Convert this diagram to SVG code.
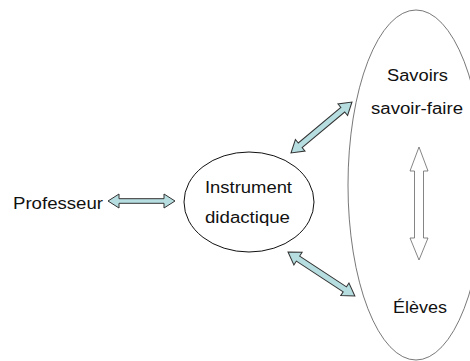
<svg xmlns="http://www.w3.org/2000/svg" width="470" height="361" viewBox="0 0 470 361">
<style>
.lbl{font-family:"Liberation Sans",Arial,Helvetica,sans-serif;font-size:16px;fill:#111;text-anchor:middle}
.dbl{fill:#b6dde0;stroke:#333;stroke-width:1;stroke-linejoin:miter}
.hollow{fill:#fff;stroke:#666;stroke-width:0.8}
</style>
<rect width="470" height="361" fill="#fff"/>
<g id="ensemble">
<ellipse cx="416" cy="185" rx="68" ry="175" fill="none" stroke="#555" stroke-width="0.8"/>
</g>
<g id="professeur">
<text class="lbl" x="58" y="209" textLength="90" lengthAdjust="spacingAndGlyphs">Professeur</text>
</g>
<g id="instrument">
<ellipse cx="249" cy="202" rx="65" ry="50" fill="#fff" stroke="#111" stroke-width="1"/>
<text class="lbl" x="248.5" y="193" textLength="87" lengthAdjust="spacingAndGlyphs">Instrument</text>
<text class="lbl" x="247.5" y="223" textLength="85" lengthAdjust="spacingAndGlyphs">didactique</text>
</g>
<g id="savoirs">
<text class="lbl" x="417.5" y="81" textLength="61" lengthAdjust="spacingAndGlyphs">Savoirs</text>
<text class="lbl" x="417" y="114" textLength="92" lengthAdjust="spacingAndGlyphs">savoir-faire</text>
</g>
<g id="eleves">
<text class="lbl" x="420" y="313" textLength="54" lengthAdjust="spacingAndGlyphs">Élèves</text>
</g>
<g id="connectors">
<polygon class="dbl" transform="translate(108,201)" points="0,0 11,-7 11,-2.3 56,-2.3 56,-7 67,0 56,7 56,2.3 11,2.3 11,7"/>
<polygon class="dbl" transform="translate(291,153) rotate(-39.9)" points="0,0 12,-7.5 12,-3 67.5,-3 67.5,-7.5 79.5,0 67.5,7.5 67.5,3 12,3 12,7.5"/>
<polygon class="dbl" transform="translate(288,252) rotate(33.3)" points="0,0 12,-7.5 12,-3 68,-3 68,-7.5 80,0 68,7.5 68,3 12,3 12,7.5"/>
<polygon class="hollow" points="419,147 428,171 423.5,171 423.5,238 428,238 419,260 410,238 414.5,238 414.5,171 410,171"/>
</g>
</svg>
